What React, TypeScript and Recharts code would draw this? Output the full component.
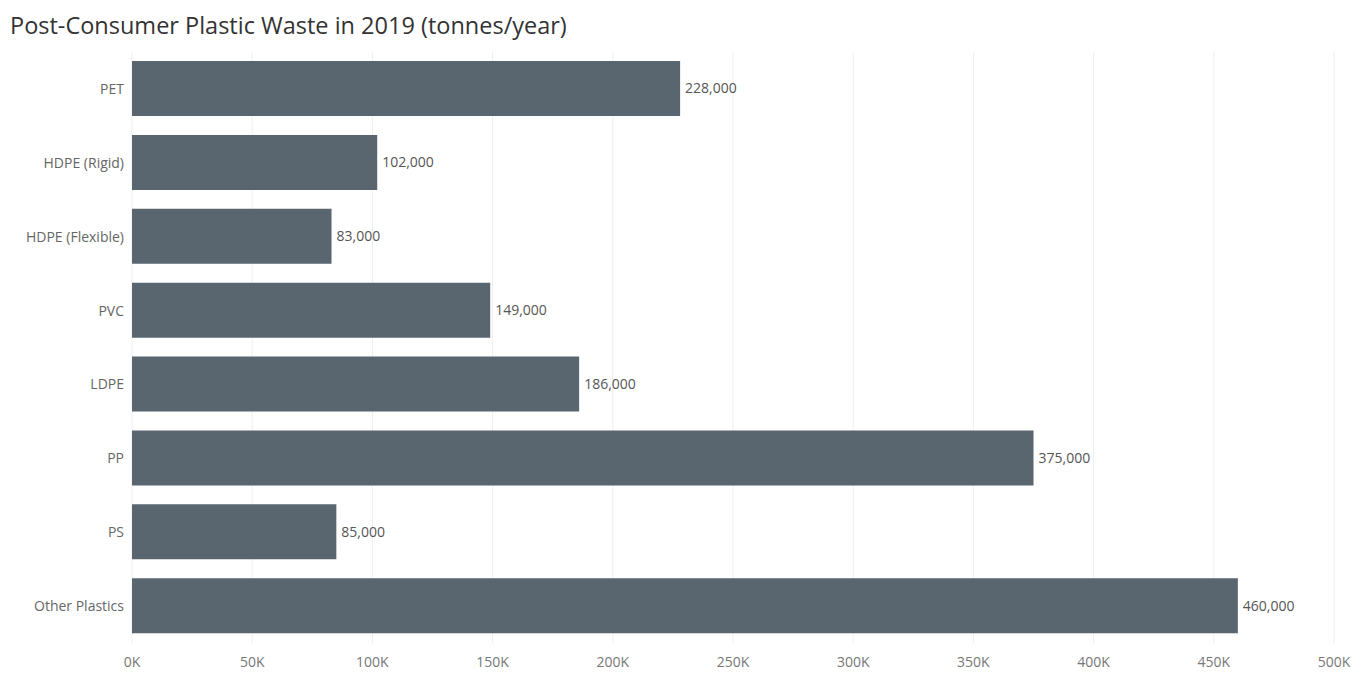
import { BarChart, Bar, XAxis, YAxis, CartesianGrid, LabelList } from "recharts";

const categories = [
  "PET",
  "HDPE (Rigid)",
  "HDPE (Flexible)",
  "PVC",
  "LDPE",
  "PP",
  "PS",
  "Other Plastics",
];
const tonnes = [228000, 102000, 83000, 149000, 186000, 375000, 85000, 460000];
const xTicks = [0, 50000, 100000, 150000, 200000, 250000, 300000, 350000, 400000, 450000, 500000];

const data = categories.map((name, i) => ({ name, value: tonnes[i] }));

const FONT = "'Open Sans', sans-serif";

export default function App() {
  return (
    <div
      style={{
        position: "fixed",
        left: 0,
        top: 0,
        width: 1364,
        height: 675,
        background: "#fff",
        fontFamily: FONT,
      }}
    >
      <div
        style={{
          position: "absolute",
          left: 10,
          top: 9,
          fontSize: 23.5,
          color: "#333",
          whiteSpace: "nowrap",
        }}
      >
        Post-Consumer Plastic Waste in 2019 (tonnes/year)
      </div>
      <BarChart
        width={1364}
        height={675}
        data={data}
        layout="vertical"
        margin={{ top: 52, right: 30, bottom: 2, left: 0 }}
        barCategoryGap="25%"
      >
        <CartesianGrid horizontal={false} stroke="#eeeeee" />
        <XAxis
          type="number"
          domain={[0, 500000]}
          ticks={xTicks}
          tickFormatter={(v: number) => `${v / 1000}K`}
          axisLine={false}
          tickLine={false}
          tickMargin={8}
          height={30}
          tick={{ fill: "#777", fontSize: 14, fontFamily: FONT }}
          interval={0}
        />
        <YAxis
          type="category"
          dataKey="name"
          width={132}
          axisLine={false}
          tickLine={false}
          tick={{ fill: "#666", fontSize: 14, fontFamily: FONT }}
          interval={0}
        />
        <Bar dataKey="value" fill="#59656f" barSize={55} isAnimationActive={false}>
          <LabelList
            dataKey="value"
            position="right"
            offset={5}
            formatter={(v: number) => v.toLocaleString("en-US")}
            style={{ fill: "#555", fontSize: 14, fontFamily: FONT }}
          />
        </Bar>
      </BarChart>
    </div>
  );
}
